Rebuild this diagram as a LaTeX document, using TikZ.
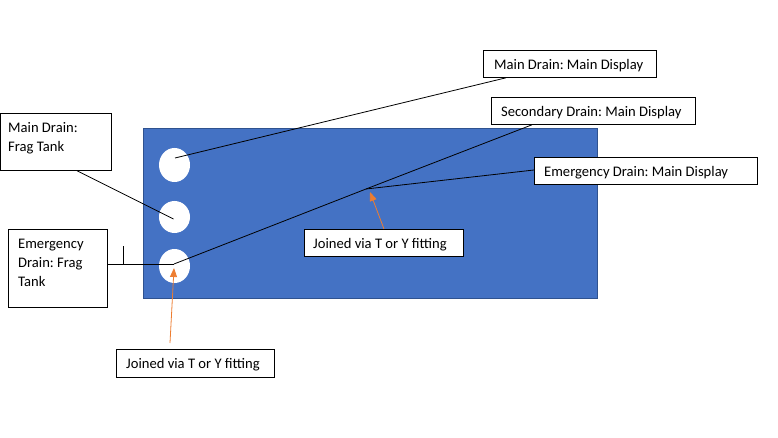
\documentclass[tikz,border=0pt]{standalone}
\usepackage{fontspec}
\setmainfont{Carlito}
\frenchspacing
\usetikzlibrary{arrows.meta,shapes.geometric}
\definecolor{panelblue}{HTML}{4472C4}
\definecolor{paneledge}{HTML}{2F528F}
\definecolor{arroworange}{HTML}{ED7D31}
\tikzset{
  lbl/.style={draw=black, fill=white, line width=0.8pt, inner sep=0pt, minimum height=27pt, anchor=north west},
  txt/.style={font=\fontsize{14.6}{19}\selectfont, inner sep=0pt, align=left},
  hole/.style={ellipse, fill=white, minimum width=31pt, inner sep=0pt},
  pipe/.style={draw=black, line width=0.8pt},
  pointer/.style={draw=arroworange, line width=0.8pt, -{Triangle[length=9pt,width=7pt]}}
}
\begin{document}
\begin{tikzpicture}[x=1pt,y=-1pt]
\useasboundingbox (0,0) rectangle (778,438);
% panel
\node[draw=paneledge, fill=panelblue, line width=0.8pt, minimum width=454pt, minimum height=170pt, inner sep=0pt, anchor=north west] (panel) at (143,128) {};
% holes
\node[hole, minimum height=34pt] (c1) at (174.5,165) {};
\node[hole, minimum height=32pt] (c2) at (174.5,217) {};
\node[hole, minimum height=34pt] (c3) at (174.5,266) {};
\coordinate (p1) at (175,158);
\coordinate (p2) at (173.5,219);
\coordinate (p3) at (174,264);
\coordinate (j) at (366,189);
% label boxes
\node[lbl, minimum width=173pt] (mdmd) at (483,50) {};
\node[txt, anchor=west] (t1) at (494,65.5) {Main Drain: Main Display};
\node[lbl, minimum width=204pt] (sdmd) at (491,97) {};
\node[txt, anchor=west] (t2) at (501,112.5) {Secondary Drain: Main Display};
\node[lbl, minimum width=223pt] (edmd) at (534,157) {};
\node[txt, anchor=west] (t3) at (544,172.5) {Emergency Drain: Main Display};
\node[lbl, minimum width=159pt] (jt1) at (304,229) {};
\node[txt, anchor=west] (t4) at (313,244.5) {Joined via T or Y fitting};
\node[lbl, minimum width=158pt, minimum height=28pt] (jt2) at (116,349) {};
\node[txt, anchor=west] (t5) at (126,365) {Joined via T or Y fitting};
\node[lbl, minimum width=111pt, minimum height=57pt] (mdft) at (0,113) {};
\node[txt, anchor=north west] (t6) at (8,122) {Main Drain:\\Frag Tank};
\node[lbl, minimum width=99pt, minimum height=78pt] (edft) at (8,229) {};
\node[txt, anchor=north west] (t7) at (18,239) {Emergency\\Drain: Frag\\Tank};
% pipes
\draw[pipe] (p1) -- ([xshift=23pt]mdmd.south west);
\draw[pipe] ([xshift=77pt]mdft.south west) -- (p2);
\draw[pipe] (edft.east |- p3) -- (p3);
\coordinate (tk) at (123,246);
\draw[pipe] (tk) -- (tk |- p3);
\draw[pipe] (p3) -- (j) -- ([xshift=41pt]sdmd.south west);
\draw[pipe] (j) -- ([yshift=-13pt]edmd.north west);
% pointers
\draw[pointer] ([xshift=80pt]jt1.north west) -- (370,192);
\draw[pointer] ([xshift=54pt,yshift=6pt]jt2.north west) -- (174,268);
\end{tikzpicture}
\end{document}
